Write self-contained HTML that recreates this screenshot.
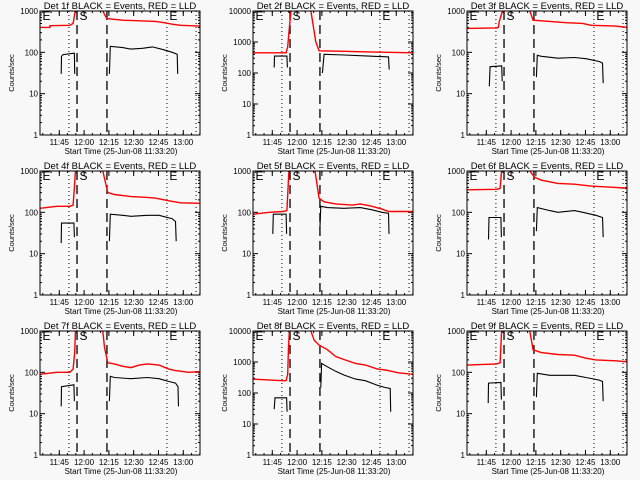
<!DOCTYPE html>
<html><head><meta charset="utf-8"><style>
html,body{margin:0;padding:0;background:#f8f8f8;}
svg{display:block;font-family:"Liberation Sans",sans-serif;}
</style></head><body>
<svg id="chart" width="640" height="480" viewBox="0 0 640 480" xmlns="http://www.w3.org/2000/svg">
<rect width="640" height="480" fill="#f8f8f8"/>
</svg>
<script>
// time in minutes since 11:33:20, value in counts/sec
const xTickLabels = ["11:45","12:00","12:15","12:30","12:45","13:00"];
const xTickTimes = [11.67,26.67,41.67,56.67,71.67,86.67];
const markerDotted = [17.5,76.8,94.4];
const markerDashed = [22.4,40.5];
const panelNames = ["Det 1f","Det 2f","Det 3f","Det 4f","Det 5f","Det 6f","Det 7f","Det 8f","Det 9f"];
const panelDecades = [3,4,3,3,3,3,3,4,3];

const det1Red = [[0,400],[6,400],[6,440],[18,450],[20,500],[21.5,1100],[22,3000],[36,3000],[38,1000],[40,700],[41,650],[50,600],[60,580],[70,560],[75,520],[80,480],[85,450],[97,430]];
const det1Black1 = [[12.8,30],[13,80],[14,88],[20,95],[20.8,95],[21,30]];
const det1Black2 = [[42,30],[42.5,140],[50,130],[55,120],[62,125],[68,135],[75,115],[80,100],[83,90],[83.3,30]];

const det2Red = [[0,450],[20,450],[21,700],[22,3000],[23,10000],[24,20000],[34,20000],[35,10000],[38,1000],[40,520],[55,500],[70,480],[97,450]];
const det2Black1 = [[12.8,150],[13,350],[20.5,350],[20.8,150]];
const det2Black2 = [[42,100],[43,400],[55,380],[70,350],[82,330],[82.4,130]];

const det3Red = [[0,380],[18,390],[19,400],[19.5,550],[21.8,1100],[22,3000],[36,3000],[38,1000],[40,600],[45,580],[60,520],[70,500],[75,450],[90,430],[97,400]];
const det3Black1 = [[13.5,15],[14,45],[21,47],[21.3,20]];
const det3Black2 = [[42,25],[42.5,85],[45,80],[55,72],[65,75],[72,70],[80,60],[82,55],[82.4,18]];

const det4Red = [[0,125],[10,140],[18,140],[20,150],[21,500],[21.5,1100],[22,3000],[36,3000],[38,1000],[41,300],[45,270],[55,240],[65,230],[70,220],[78,190],[85,170],[97,165]];
const det4Black1 = [[12.8,18],[13,55],[20.5,55],[20.8,25]];
const det4Black2 = [[42,20],[42.5,90],[50,85],[55,80],[65,85],[72,85],[80,70],[82,60],[82.4,20]];

const det5Red = [[0,90],[10,100],[18,105],[20.5,110],[21.8,1100],[22,3000],[36,3000],[37.5,1000],[40,220],[43,180],[50,160],[60,150],[65,160],[72,140],[78,120],[82,105],[97,105]];
const det5Black1 = [[12,30],[12.3,90],[20,90],[20.3,30]];
const det5Black2 = [[40.5,40],[41,140],[45,130],[55,125],[65,130],[72,115],[78,100],[82,95],[82.3,30]];

const det6Red = [[0,350],[18,360],[20,380],[21,1100],[22,3000],[36,3000],[38,1000],[41,700],[45,600],[55,500],[65,480],[75,430],[80,420],[90,400],[97,380]];
const det6Black1 = [[13,22],[13.3,75],[20.5,75],[20.8,25]];
const det6Black2 = [[42,35],[42.5,130],[50,110],[55,100],[65,110],[70,100],[78,85],[82,75],[82.4,25]];

const det7Red = [[0,90],[5,95],[10,100],[18,100],[20,120],[21,300],[21.5,1100],[22,3000],[36,3000],[38,1000],[39,400],[41,170],[45,160],[50,140],[55,130],[60,150],[65,160],[72,150],[78,120],[82,110],[90,100],[97,105]];
const det7Black1 = [[12.8,15],[13,45],[20.5,50],[20.8,20]];
const det7Black2 = [[42,20],[42.5,80],[45,75],[55,70],[65,75],[72,70],[78,60],[82,55],[83.5,45],[83.8,15]];

const det8Red = [[0,280],[18,250],[20,250],[21,400],[21.5,3000],[22,10000],[23,20000],[34,20000],[35,10000],[37,5000],[40,3500],[45,2500],[50,1500],[55,1200],[62,900],[68,800],[75,600],[80,550],[88,450],[97,400]];
const det8Black1 = [[12.8,30],[13.3,70],[20.3,70],[20.6,25]];
const det8Black2 = [[41,150],[41.5,900],[45,700],[50,500],[55,380],[62,280],[68,250],[75,180],[80,150],[83,140],[83.3,25]];

const det9Red = [[0,150],[18,160],[20,170],[21,1100],[22,3000],[36,3000],[38,1000],[40,350],[45,300],[55,270],[65,260],[72,220],[78,200],[90,190],[97,180]];
const det9Black1 = [[12.8,18],[13,55],[20.5,57],[20.8,22]];
const det9Black2 = [[42,25],[42.5,95],[50,85],[65,85],[72,75],[80,65],[82,60],[82.4,20]];

const redList = [det1Red,det2Red,det3Red,det4Red,det5Red,det6Red,det7Red,det8Red,det9Red];
const blackList = [[det1Black1,det1Black2],[det2Black1,det2Black2],[det3Black1,det3Black2],[det4Black1,det4Black2],[det5Black1,det5Black2],[det6Black1,det6Black2],[det7Black1,det7Black2],[det8Black1,det8Black2],[det9Black1,det9Black2]];

const NS = "http://www.w3.org/2000/svg";
const svg = document.getElementById("chart");
function mk(tag, attrs, parent){
  const e = document.createElementNS(NS, tag);
  for (const k in attrs) e.setAttribute(k, attrs[k]);
  parent.appendChild(e);
  return e;
}
const BL = 40, BR = 200, BT = 11, BB = 135, PPM = 1.653;

for (let i = 0; i < 9; i++) {
  const ox = [0,213,427][i % 3], oy = [0,160,320][Math.floor(i/3)];
  const dec = panelDecades[i];
  const xs = t => BL + t * PPM;
  const ys = v => BB - Math.log10(v) / dec * (BB - BT);
  const g = mk("g", {transform: `translate(${ox},${oy})`}, svg);
  
  
  const cp = mk("clipPath", {id: "clip" + i}, g);
  mk("rect", {x: BL, y: BT, width: BR-BL, height: BB-BT}, cp);

  const title = mk("text", {x: 120, y: 9, "text-anchor": "middle", "font-size": 9.5, fill: "#000"}, g);
  title.textContent = panelNames[i] + " BLACK = Events, RED = LLD";
  
  

  // y axis ticks & labels
  for (let d = 0; d <= dec; d++) {
    const y = ys(Math.pow(10, d));
    mk("line", {x1: BL, x2: BL+5, y1: y, y2: y, stroke: "#000"}, g);
    mk("line", {x1: BR-5, x2: BR, y1: y, y2: y, stroke: "#000"}, g);
    const lab = mk("text", {x: BL-2, y: y+3, "text-anchor": "end", "font-size": 8, fill: "#000"}, g);
    lab.textContent = String(Math.pow(10, d));
    
    
    if (d < dec) for (let m = 2; m < 10; m++) {
      const ym = ys(m * Math.pow(10, d));
      mk("line", {x1: BL, x2: BL+2, y1: ym, y2: ym, stroke: "#000"}, g);
      mk("line", {x1: BR-2, x2: BR, y1: ym, y2: ym, stroke: "#000"}, g);
    }
  }
  // x ticks
  xTickTimes.forEach((t, k) => {
    const x = xs(t);
    mk("line", {x1: x, x2: x, y1: BB, y2: BB-5, stroke: "#000"}, g);
    mk("line", {x1: x, x2: x, y1: BT, y2: BT+5, stroke: "#000"}, g);
    const lab = mk("text", {x: x, y: BB+10, "text-anchor": "middle", "font-size": 8, fill: "#000"}, g);
    lab.textContent = xTickLabels[k];
    
    
  });
  for (let t = 1.67; t < 97; t += 5) {
    const x = xs(t);
    mk("line", {x1: x, x2: x, y1: BB, y2: BB-2, stroke: "#000"}, g);
    mk("line", {x1: x, x2: x, y1: BT, y2: BT+2, stroke: "#000"}, g);
  }
  const xt = mk("text", {x: 121, y: BB+19, "text-anchor": "middle", "font-size": 8, fill: "#000"}, g);
  xt.textContent = "Start Time (25-Jun-08 11:33:20)";
  
  
  const yt = mk("text", {x: 0, y: 0, transform: `translate(14,73) rotate(-90)`, "text-anchor": "middle", "font-size": 7.5, fill: "#000"}, g);
  yt.textContent = "Counts/sec";
  
  

  // marker lines
  markerDotted.forEach(t => {
    const l = mk("line", {x1: xs(t), x2: xs(t), y1: BT, y2: BB, stroke: "#000", "stroke-dasharray": "1,3"}, g);
    
    
  });
  markerDashed.forEach(t => {
    const l = mk("line", {x1: xs(t), x2: xs(t), y1: BT, y2: BB, stroke: "#000", "stroke-width": 1.3, "stroke-dasharray": "9,5"}, g);
    
    
  });
  const letters = [["E", 1.5], ["S", markerDashed[0]+1.5], ["E", markerDotted[1]+1.5]];
  letters.forEach(([c, t]) => {
    const tx = mk("text", {x: xs(t), y: BT+9, "font-size": 12, fill: "#000"}, g);
    tx.textContent = c;
    
    
  });

  const dg = mk("g", {"clip-path": `url(#clip${i})`}, g);
  const red = mk("polyline", {points: redList[i].map(p => xs(p[0]).toFixed(1)+","+ys(p[1]).toFixed(1)).join(" "), fill: "none", stroke: "#ff0000", "stroke-width": 1.4}, dg);
  
  
  blackList[i].forEach(seg => {
    const b = mk("polyline", {points: seg.map(p => xs(p[0]).toFixed(1)+","+ys(p[1]).toFixed(1)).join(" "), fill: "none", stroke: "#000", "stroke-width": 1.1}, dg);
    
    
  });
  const box = mk("rect", {x: BL, y: BT, width: BR-BL, height: BB-BT, fill: "none", stroke: "#000"}, g);
  
  
}
</script>
</body></html>
